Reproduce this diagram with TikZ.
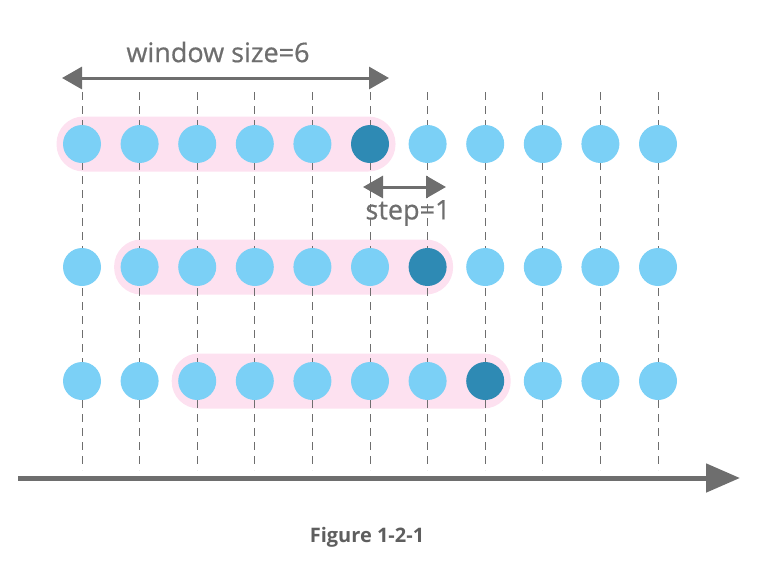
\documentclass[tikz,border=0pt]{standalone}
\usepackage{fontspec}
\setmainfont{Open Sans}
\newfontfamily\labelfont[FakeBold=0.6]{Open Sans}
\usepackage{tikz}
\usetikzlibrary{arrows.meta}
\definecolor{dotblue}{HTML}{7BD0F6}
\definecolor{darkdot}{HTML}{2E8AB4}
\definecolor{winpink}{HTML}{FDE1F0}
\definecolor{arrgray}{HTML}{6E6E6E}
\tikzset{
    dot/.style={circle,fill=dotblue,minimum size=38pt,inner sep=0pt},
    lastdot/.style={dot,fill=darkdot},
    window/.style={fill=winpink,rounded corners=27pt,minimum width=339pt,minimum height=55pt,inner sep=0pt},
    grid/.style={arrgray,line width=0.8pt,dash pattern=on 8pt off 6pt},
    span/.style={<->,>={Triangle[length=20pt,width=22pt]},arrgray,line width=3pt},
    label/.style={text=arrgray,font=\labelfont\fontsize{27}{32}\selectfont}
}
\newcommand{\w}{57.6}

\begin{document}
\begin{tikzpicture}[x=1pt,y=-1pt]
\useasboundingbox (0,0) rectangle (768,563);
% windows
\node[window] (win1) at (226,144) {};
\node[window] (win2) at (226+\w,267) {};
\node[window] (win3) at (226+2*\w,381) {};

% time grid
\coordinate (t1) at (82,92);
\coordinate (t2) at (82+\w,92);
\coordinate (t3) at (82+2*\w,92);
\coordinate (t4) at (82+3*\w,92);
\coordinate (t5) at (82+4*\w,92);
\coordinate (t6) at (82+5*\w,92);
\coordinate (t7) at (82+6*\w,92);
\coordinate (t8) at (82+7*\w,92);
\coordinate (t9) at (82+8*\w,92);
\coordinate (t10) at (82+9*\w,92);
\coordinate (t11) at (82+10*\w,92);
\coordinate (b1) at (82,470);
\coordinate (b2) at (82+\w,470);
\coordinate (b3) at (82+2*\w,470);
\coordinate (b4) at (82+3*\w,470);
\coordinate (b5) at (82+4*\w,470);
\coordinate (b6) at (82+5*\w,470);
\coordinate (b7) at (82+6*\w,470);
\coordinate (b8) at (82+7*\w,470);
\coordinate (b9) at (82+8*\w,470);
\coordinate (b10) at (82+9*\w,470);
\coordinate (b11) at (82+10*\w,470);
\draw[grid] (t1) -- (b1);
\draw[grid] (t2) -- (b2);
\draw[grid] (t3) -- (b3);
\draw[grid] (t4) -- (b4);
\draw[grid] (t5) -- (b5);
\draw[grid] (t6) -- (b6);
\draw[grid] (t7) -- (b7);
\draw[grid] (t8) -- (b8);
\draw[grid] (t9) -- (b9);
\draw[grid] (t10) -- (b10);
\draw[grid] (t11) -- (b11);

% first row
\node[dot] (a1) at (82,144) {};
\node[dot] (a2) at (82+\w,144) {};
\node[dot] (a3) at (82+2*\w,144) {};
\node[dot] (a4) at (82+3*\w,144) {};
\node[dot] (a5) at (82+4*\w,144) {};
\node[lastdot] (a6) at (82+5*\w,144) {};
\node[dot] (a7) at (82+6*\w,144) {};
\node[dot] (a8) at (82+7*\w,144) {};
\node[dot] (a9) at (82+8*\w,144) {};
\node[dot] (a10) at (82+9*\w,144) {};
\node[dot] (a11) at (82+10*\w,144) {};

% second row
\node[dot] (m1) at (82,267) {};
\node[dot] (m2) at (82+\w,267) {};
\node[dot] (m3) at (82+2*\w,267) {};
\node[dot] (m4) at (82+3*\w,267) {};
\node[dot] (m5) at (82+4*\w,267) {};
\node[dot] (m6) at (82+5*\w,267) {};
\node[lastdot] (m7) at (82+6*\w,267) {};
\node[dot] (m8) at (82+7*\w,267) {};
\node[dot] (m9) at (82+8*\w,267) {};
\node[dot] (m10) at (82+9*\w,267) {};
\node[dot] (m11) at (82+10*\w,267) {};

% third row
\node[dot] (z1) at (82,381) {};
\node[dot] (z2) at (82+\w,381) {};
\node[dot] (z3) at (82+2*\w,381) {};
\node[dot] (z4) at (82+3*\w,381) {};
\node[dot] (z5) at (82+4*\w,381) {};
\node[dot] (z6) at (82+5*\w,381) {};
\node[dot] (z7) at (82+6*\w,381) {};
\node[lastdot] (z8) at (82+7*\w,381) {};
\node[dot] (z9) at (82+8*\w,381) {};
\node[dot] (z10) at (82+9*\w,381) {};
\node[dot] (z11) at (82+10*\w,381) {};

% window and step
\coordinate (wl) at (62,78);
\coordinate (wr) at (389,78);
\draw[span] (wl) -- (wr);
\node[label] (wsize) at (218,52) {window size=6};
\coordinate (sl) at (363,187);
\coordinate (sr) at (446,187);
\draw[span] (sl) -- (sr);
\node[label] (step1) at (408,213) {step=1};

% time axis
\coordinate (ax0) at (18,478);
\coordinate (ax1) at (740,478);
\draw[-{Triangle[length=34pt,width=28pt]},arrgray,line width=5pt] (ax0) -- (ax1);

\node[text=arrgray!85!black,font=\bfseries\fontsize{20}{24}\selectfont] (cap) at (367,537) {Figure 1-2-1};
\end{tikzpicture}
\end{document}
